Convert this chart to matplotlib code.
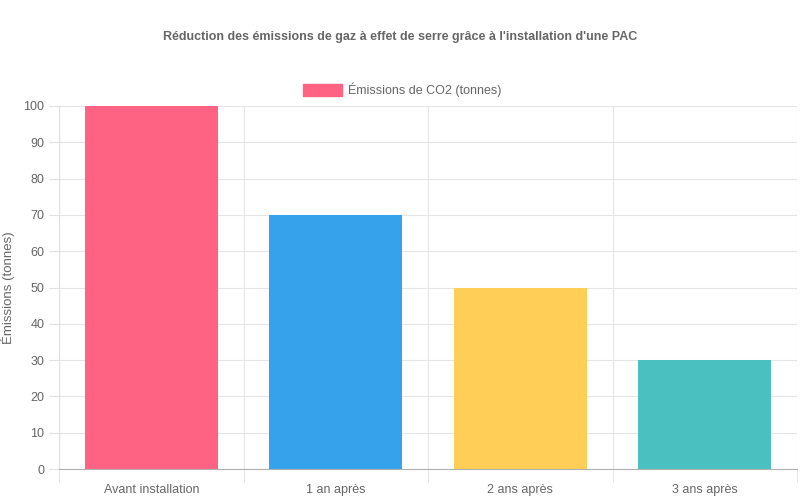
import matplotlib
matplotlib.use("Agg")
import matplotlib.pyplot as plt
import numpy as np

categories = ["Avant installation", "1 an après", "2 ans après", "3 ans après"]
values = [100, 70, 50, 30]
colors = ["#FF6384", "#36A2EB", "#FFCE56", "#4BC0C0"]

plt.rcParams['font.family'] = ['Liberation Sans', 'DejaVu Sans']
fig = plt.figure(figsize=(8, 5), dpi=100)
ax = fig.add_axes([59/800, 1-469/500, (797-59)/800, (469-106)/500])

x = np.arange(len(categories))
ax.bar(x, values, width=0.72, color=colors, zorder=2)
ax.set_xlim(-0.5, len(categories) - 0.5)
ax.set_ylim(0, 100)
ax.set_yticks(range(0, 101, 10))
ax.set_xticks(x)
ax.set_xticklabels(categories)
ax.set_xticks(np.arange(-0.5, len(categories), 1), minor=True)
ax.tick_params(axis='x', which='major', length=0, pad=11, colors='#666666', labelsize=9)
ax.tick_params(axis='x', which='minor', length=9, color='#e0e0e0')
ax.tick_params(axis='y', length=7, color='#e0e0e0', colors='#666666', labelsize=9)
ax.grid(True, axis='y', color='#e5e5e5', linewidth=0.8, zorder=0)
ax.grid(True, axis='x', which='minor', color='#e5e5e5', linewidth=0.8, zorder=0)
for s in ['top', 'right']:
    ax.spines[s].set_visible(False)
ax.spines['left'].set_color('#e0e0e0')
ax.spines['bottom'].set_color('#b0b0b0')
ax.set_ylabel("Émissions (tonnes)", color='#666666', fontsize=9.5, labelpad=6)

fig.text(0.5, 1-37/500, "Réduction des émissions de gaz à effet de serre grâce à l'installation d'une PAC",
         ha='center', va='center', fontsize=9, fontweight='bold', color='#666666')
fig.patches.append(plt.Rectangle((303/800, 1-96/500), 39/800, 12/500, transform=fig.transFigure,
                                 color=colors[0], figure=fig))
fig.text(348/800, 1-90/500, "Émissions de CO2 (tonnes)", ha='left', va='center', fontsize=9, color='#666666')

fig.savefig("out.png", dpi=100)
